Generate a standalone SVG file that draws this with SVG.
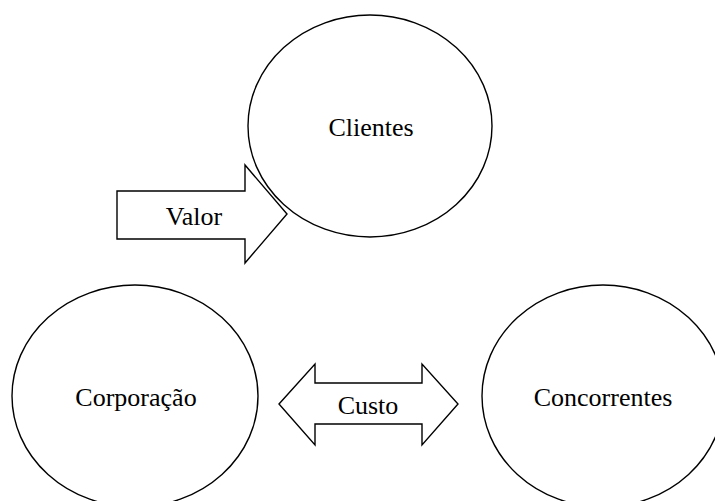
<svg xmlns="http://www.w3.org/2000/svg" width="715" height="501" viewBox="0 0 715 501">
  <style>
    .node { fill: #ffffff; stroke: #000000; stroke-width: 1.4; }
    .arrow { fill: #ffffff; stroke: #000000; stroke-width: 1.4; stroke-linejoin: miter; }
    .label { font-family: "Liberation Serif", "Times New Roman", serif; font-size: 26px; fill: #000000; text-anchor: middle; }
  </style>
  <rect width="715" height="501" fill="#ffffff"/>

  <g id="connectors">
    <!-- single block arrow pointing right, toward Clientes -->
    <g id="valor">
      <polygon class="arrow" points="117,191 245,191 245,165 287,214 245,263 245,239 117,239"/>
      <text class="label" x="194" y="225">Valor</text>
    </g>
    <!-- double-headed block arrow between Corporação and Concorrentes -->
    <g id="custo">
      <polygon class="arrow" points="279,404 315,364 315,383 422,383 422,364 458,404 422,445 422,424 315,424 315,445"/>
      <text class="label" x="368" y="414">Custo</text>
    </g>
  </g>

  <g id="clientes">
    <ellipse class="node" cx="370" cy="126" rx="122" ry="111"/>
    <text class="label" x="371" y="136">Clientes</text>
  </g>

  <g id="corporacao">
    <ellipse class="node" cx="135" cy="396" rx="123" ry="111"/>
    <text class="label" x="136" y="406">Corporação</text>
  </g>

  <g id="concorrentes">
    <ellipse class="node" cx="603" cy="396" rx="121" ry="111"/>
    <text class="label" x="603" y="406">Concorrentes</text>
  </g>
</svg>
